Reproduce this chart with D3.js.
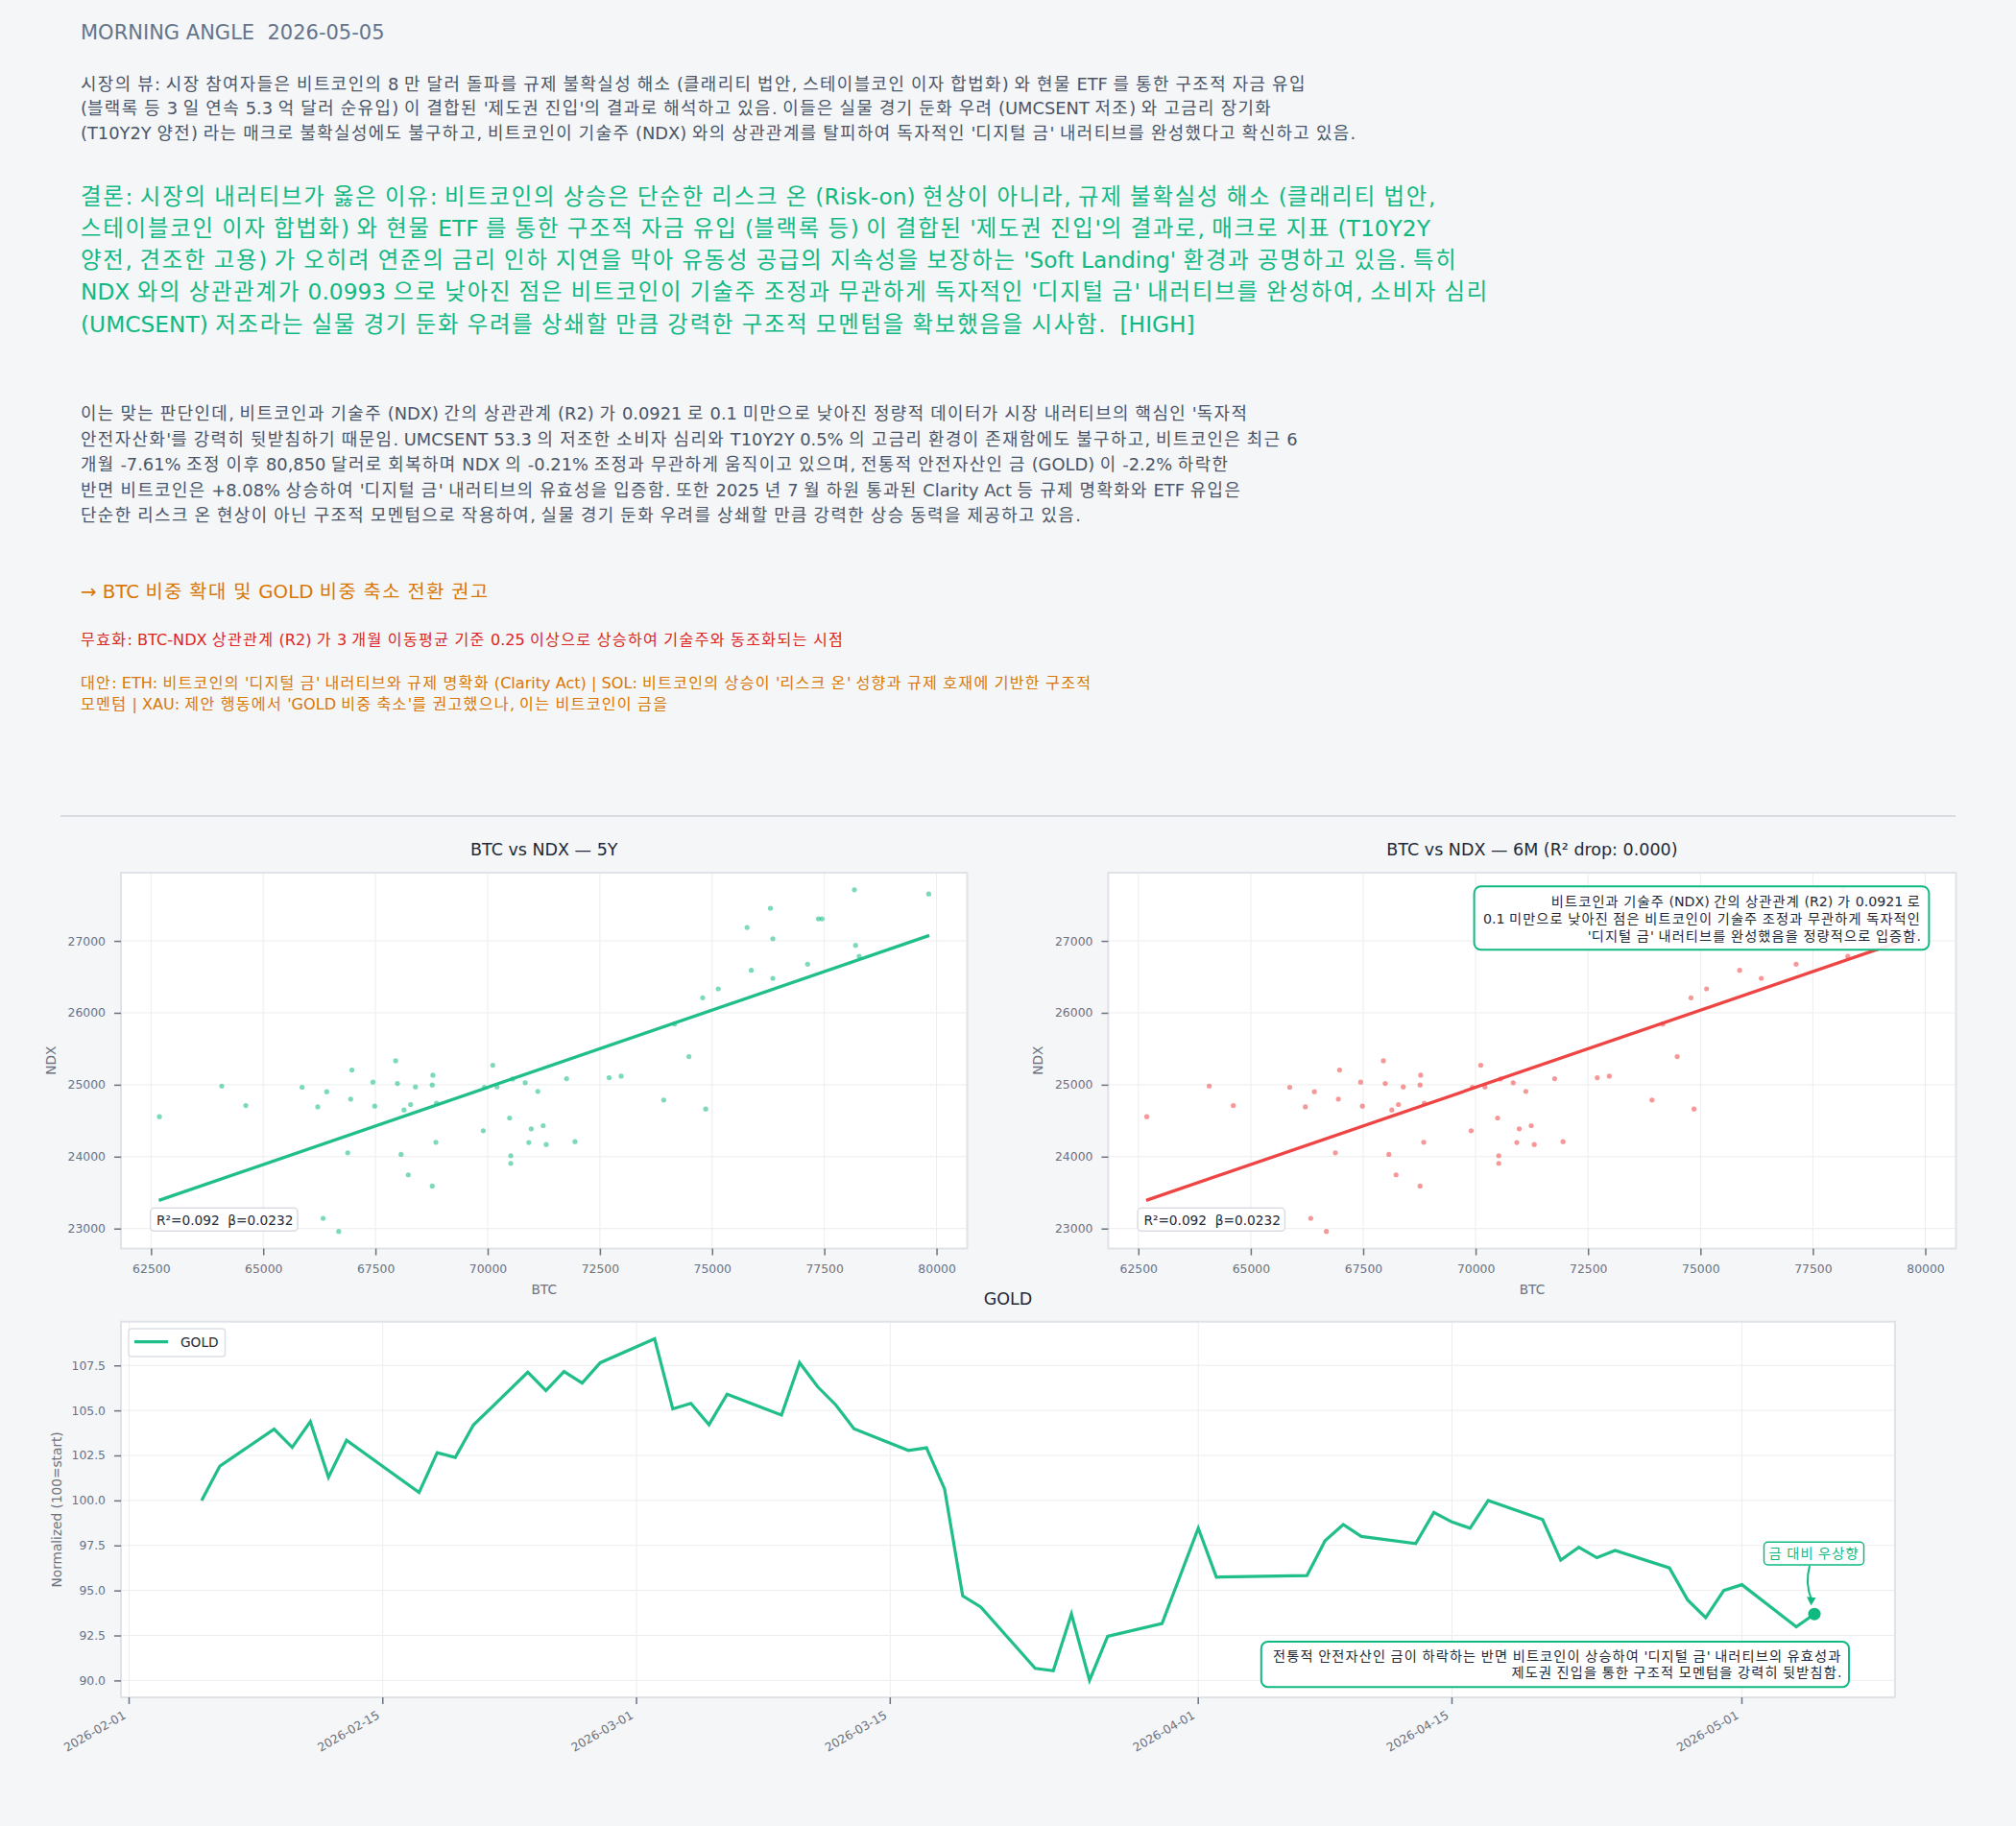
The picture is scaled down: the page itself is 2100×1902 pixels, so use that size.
<!DOCTYPE html>
<html><head><meta charset="utf-8">
<script src="https://cdn.jsdelivr.net/npm/d3@7"></script>
<style>
html,body{margin:0;padding:0;background:#f5f6f8;}
svg{display:block;}
text{font-family:"DejaVu Sans","Noto Sans CJK KR",sans-serif;white-space:pre;}
</style></head><body>
<svg id="c" width="2100" height="1902"></svg>
<script>
// ---------------- text content ----------------
const headerTitle = "MORNING ANGLE  2026-05-05";
const viewLines = [
  "시장의 뷰: 시장 참여자들은 비트코인의 8 만 달러 돌파를 규제 불확실성 해소 (클래리티 법안, 스테이블코인 이자 합법화) 와 현물 ETF 를 통한 구조적 자금 유입",
  "(블랙록 등 3 일 연속 5.3 억 달러 순유입) 이 결합된 '제도권 진입'의 결과로 해석하고 있음. 이들은 실물 경기 둔화 우려 (UMCSENT 저조) 와 고금리 장기화",
  "(T10Y2Y 양전) 라는 매크로 불확실성에도 불구하고, 비트코인이 기술주 (NDX) 와의 상관관계를 탈피하여 독자적인 '디지털 금' 내러티브를 완성했다고 확신하고 있음."
];
const conclusionLines = [
  "결론: 시장의 내러티브가 옳은 이유: 비트코인의 상승은 단순한 리스크 온 (Risk-on) 현상이 아니라, 규제 불확실성 해소 (클래리티 법안,",
  "스테이블코인 이자 합법화) 와 현물 ETF 를 통한 구조적 자금 유입 (블랙록 등) 이 결합된 '제도권 진입'의 결과로, 매크로 지표 (T10Y2Y",
  "양전, 견조한 고용) 가 오히려 연준의 금리 인하 지연을 막아 유동성 공급의 지속성을 보장하는 'Soft Landing' 환경과 공명하고 있음. 특히",
  "NDX 와의 상관관계가 0.0993 으로 낮아진 점은 비트코인이 기술주 조정과 무관하게 독자적인 '디지털 금' 내러티브를 완성하여, 소비자 심리",
  "(UMCSENT) 저조라는 실물 경기 둔화 우려를 상쇄할 만큼 강력한 구조적 모멘텀을 확보했음을 시사함.  [HIGH]"
];
const evidenceLines = [
  "이는 맞는 판단인데, 비트코인과 기술주 (NDX) 간의 상관관계 (R2) 가 0.0921 로 0.1 미만으로 낮아진 정량적 데이터가 시장 내러티브의 핵심인 '독자적",
  "안전자산화'를 강력히 뒷받침하기 때문임. UMCSENT 53.3 의 저조한 소비자 심리와 T10Y2Y 0.5% 의 고금리 환경이 존재함에도 불구하고, 비트코인은 최근 6",
  "개월 -7.61% 조정 이후 80,850 달러로 회복하며 NDX 의 -0.21% 조정과 무관하게 움직이고 있으며, 전통적 안전자산인 금 (GOLD) 이 -2.2% 하락한",
  "반면 비트코인은 +8.08% 상승하여 '디지털 금' 내러티브의 유효성을 입증함. 또한 2025 년 7 월 하원 통과된 Clarity Act 등 규제 명확화와 ETF 유입은",
  "단순한 리스크 온 현상이 아닌 구조적 모멘텀으로 작용하여, 실물 경기 둔화 우려를 상쇄할 만큼 강력한 상승 동력을 제공하고 있음."
];
const actionText = "→ BTC 비중 확대 및 GOLD 비중 축소 전환 권고";
const invalidText = "무효화: BTC-NDX 상관관계 (R2) 가 3 개월 이동평균 기준 0.25 이상으로 상승하여 기술주와 동조화되는 시점";
const altLines = [
  "대안: ETH: 비트코인의 '디지털 금' 내러티브와 규제 명확화 (Clarity Act) | SOL: 비트코인의 상승이 '리스크 온' 성향과 규제 호재에 기반한 구조적",
  "모멘텀 | XAU: 제안 행동에서 'GOLD 비중 축소'를 권고했으나, 이는 비트코인이 금을"
];

// ---------------- scatter data (BTC vs NDX) ----------------
const btc = [62687,64076,64611,65866,66214,66414,66334,66681,66882,66948,66975,67443,67483,67950,67990,68071,68137,68231,68284,68391,
  68765,68765,68779,68846,68859,69901,69927,70114,70208,70489,70515,70515,70555,70836,70916,70970,71117,71237,71304,71758,
  71945,72706,72973,73922,74162,74483,74790,74857,75137,75779,75872,76299,76353,76353,77128,77368,77448,78170,78196,78276,79826];
const ndx = [24556,24982,24711,24965,24693,24902,23142,22960,24053,24800,25204,25036,24702,25333,25018,24031,24649,23747,24725,24969,
  23591,24996,25133,24200,24742,24360,24965,25271,24969,24538,24013,23907,25080,25027,24196,24387,24907,24431,24169,25084,
  24209,25098,25120,24787,25844,25391,26209,24662,26333,27187,26591,27453,27031,26480,26676,27307,27307,27711,26938,26787,27653];
const fitBtc = [62673, 79839];
const fitNdx = [23391, 27076];
const statText = "R²=0.092  β=0.0232";
const scatterXTicks = [62500,65000,67500,70000,72500,75000,77500,80000];
const scatterYTicks = [23000,24000,25000,26000,27000];
const scatterTitles = ["BTC vs NDX — 5Y", "BTC vs NDX — 6M (R² drop: 0.000)"];
const corrNote = [
  "비트코인과 기술주 (NDX) 간의 상관관계 (R2) 가 0.0921 로",
  "0.1 미만으로 낮아진 점은 비트코인이 기술주 조정과 무관하게 독자적인",
  "'디지털 금' 내러티브를 완성했음을 정량적으로 입증함."
];

// ---------------- GOLD data ----------------
const goldDates = ["2026-02-05","2026-02-06","2026-02-09","2026-02-10","2026-02-11","2026-02-12","2026-02-13","2026-02-17","2026-02-18","2026-02-19",
  "2026-02-20","2026-02-23","2026-02-24","2026-02-25","2026-02-26","2026-02-27","2026-03-02","2026-03-03","2026-03-04","2026-03-05",
  "2026-03-06","2026-03-09","2026-03-10","2026-03-11","2026-03-12","2026-03-13","2026-03-16","2026-03-17","2026-03-18","2026-03-19",
  "2026-03-20","2026-03-23","2026-03-24","2026-03-25","2026-03-26","2026-03-27","2026-03-30","2026-04-01","2026-04-02","2026-04-07",
  "2026-04-08","2026-04-09","2026-04-10","2026-04-13","2026-04-14","2026-04-15","2026-04-16","2026-04-17","2026-04-20","2026-04-21",
  "2026-04-22","2026-04-23","2026-04-24","2026-04-27","2026-04-28","2026-04-29","2026-04-30","2026-05-01","2026-05-04","2026-05-05"];
const goldValues = [100.0,101.9,103.96,102.95,104.38,101.29,103.34,100.44,102.65,102.39,
  104.19,107.12,106.1,107.16,106.52,107.65,108.98,105.09,105.39,104.21,
  105.9,104.74,107.65,106.31,105.3,103.98,102.78,102.92,100.64,94.70,
  94.08,90.67,90.54,93.69,90.01,92.45,93.16,98.46,95.74,95.83,
  97.77,98.66,98.0,97.6,99.33,98.8,98.46,100.0,98.94,96.68,
  97.40,96.82,97.22,96.25,94.48,93.49,95.0,95.32,92.98,93.69];
const goldXTicks = ["2026-02-01","2026-02-15","2026-03-01","2026-03-15","2026-04-01","2026-04-15","2026-05-01"];
const goldYTicks = [90,92.5,95,97.5,100,102.5,105,107.5];
const goldTag = "금 대비 우상향";
const goldNote = [
  "전통적 안전자산인 금이 하락하는 반면 비트코인이 상승하여 '디지털 금' 내러티브의 유효성과",
  "제도권 진입을 통한 구조적 모멘텀을 강력히 뒷받침함."
];

// ---------------- drawing ----------------
const GREEN = "#10b981", LINEG = "#1fbf87", RED = "#ef4444";
const TICKC = "#6b7280", DARK = "#1f2937";
const HANGUL = /([\u1100-\u11FF\u3130-\u318F\uAC00-\uD7AF]+)/;
const svg = d3.select("#c");

// Hangul runs get extra tracking so each syllable advances a full em, as in the reference
function rich(textSel, str, size) {
  str.split(HANGUL).forEach(part => {
    if (!part) return;
    const t = textSel.append("tspan").text(part);
    if (HANGUL.test(part)) t.attr("letter-spacing", (size * 0.08).toFixed(2));
  });
  return textSel;
}
function textLines(parent, arr, x, y0, dy, size, color, anchor) {
  arr.forEach((t, i) => {
    const el = parent.append("text").attr("x", x).attr("y", y0 + i * dy).attr("font-size", size)
      .attr("fill", color).attr("text-anchor", anchor || "start");
    rich(el, t, size);
  });
}
function padExtent(arr) { const [a, b] = d3.extent(arr); const p = (b - a) * 0.05; return [a - p, b + p]; }

// header texts
textLines(svg, [headerTitle], 84, 40.5, 0, 21, "#64748b");
textLines(svg, viewLines, 84, 93.5, 25.8, 17.85, "#4a5568");
textLines(svg, conclusionLines, 84, 212.5, 33.3, 23.3, GREEN);
textLines(svg, evidenceLines, 84, 437, 26.6, 17.85, "#4a5568");
textLines(svg, [actionText], 84, 623, 0, 19.8, "#d97706");
textLines(svg, [invalidText], 84, 672, 0, 16.15, "#dc2626");
textLines(svg, altLines, 84, 717, 21.7, 16.1, "#d97706");

svg.append("line").attr("x1", 63).attr("x2", 2037).attr("y1", 850).attr("y2", 850)
  .attr("stroke", "#cfd3da").attr("stroke-width", 1.5);

function styleAxis(g, size) {
  g.attr("font-size", size).attr("font-family", null);
  g.select(".domain").remove();
  g.selectAll(".tick line").attr("stroke", TICKC).attr("stroke-width", 1.5);
  g.selectAll(".tick text").attr("fill", TICKC);
}

function scatter(L, R, title, color, note) {
  const T = 909, B = 1300.5;
  const x = d3.scaleLinear().domain(padExtent(btc)).range([L, R]);
  const y = d3.scaleLinear().domain(padExtent(ndx)).range([B, T]);
  const g = svg.append("g");
  g.append("rect").attr("x", L).attr("y", T).attr("width", R - L).attr("height", B - T).attr("fill", "#fff");
  g.selectAll(".gx").data(scatterXTicks).join("line").attr("x1", d => x(d)).attr("x2", d => x(d))
    .attr("y1", T).attr("y2", B).attr("stroke", "#ededed").attr("stroke-width", 1);
  g.selectAll(".gy").data(scatterYTicks).join("line").attr("y1", d => y(d)).attr("y2", d => y(d))
    .attr("x1", L).attr("x2", R).attr("stroke", "#ededed").attr("stroke-width", 1);
  g.selectAll("circle").data(btc.map((b, i) => [b, ndx[i]])).join("circle")
    .attr("cx", d => x(d[0])).attr("cy", d => y(d[1])).attr("r", 2.6)
    .attr("fill", color).attr("fill-opacity", 0.55);
  g.append("line").attr("x1", x(fitBtc[0])).attr("y1", y(fitNdx[0])).attr("x2", x(fitBtc[1])).attr("y2", y(fitNdx[1]))
    .attr("stroke", color === GREEN ? LINEG : color).attr("stroke-width", 3.3).attr("stroke-linecap", "butt");
  g.append("rect").attr("x", L).attr("y", T).attr("width", R - L).attr("height", B - T)
    .attr("fill", "none").attr("stroke", "#dfe2e7").attr("stroke-width", 2);
  const ax = g.append("g").attr("transform", `translate(0,${B})`)
    .call(d3.axisBottom(x).tickValues(scatterXTicks).tickSize(7).tickPadding(9.5).tickFormat(d3.format("d")));
  styleAxis(ax, 12.4);
  const ay = g.append("g").attr("transform", `translate(${L},0)`)
    .call(d3.axisLeft(y).tickValues(scatterYTicks).tickSize(7).tickPadding(9).tickFormat(d3.format("d")));
  styleAxis(ay, 12.4);
  const cx = (L + R) / 2;
  g.append("text").attr("x", cx).attr("y", 891).attr("text-anchor", "middle").attr("font-size", 17.5).attr("fill", DARK).text(title);
  g.append("text").attr("x", cx).attr("y", 1348).attr("text-anchor", "middle").attr("font-size", 13.7).attr("fill", TICKC).text("BTC");
  g.append("text").attr("transform", `translate(${L - 68},${(T + B) / 2}) rotate(-90)`).attr("text-anchor", "middle")
    .attr("font-size", 13.7).attr("fill", TICKC).text("NDX");
  // stat box
  g.append("rect").attr("x", L + 30.7).attr("y", 1258.3).attr("width", 153.3).attr("height", 24).attr("rx", 4)
    .attr("fill", "#fff").attr("stroke", "#d9dce3").attr("stroke-width", 1.5);
  g.append("text").attr("x", L + 37).attr("y", 1275.5).attr("font-size", 13.7).attr("fill", DARK).text(statText);
  if (note) {
    g.append("rect").attr("x", 1535.6).attr("y", 923.3).attr("width", 473.8).attr("height", 66).attr("rx", 7)
      .attr("fill", "#fff").attr("fill-opacity", 0.9).attr("stroke", GREEN).attr("stroke-width", 2);
    textLines(g, note, 2001, 944, 17.8, 14.2, DARK, "end");
  }
}
scatter(126, 1007.5, scatterTitles[0], GREEN, null);
scatter(1154.4, 2037.5, scatterTitles[1], RED, corrNote);

// GOLD chart
(function () {
  const L = 126, R = 1974, T = 1376.7, B = 1768;
  const parse = d3.utcParse("%Y-%m-%d");
  const dates = goldDates.map(parse);
  const [d0, d1] = d3.extent(dates);
  const pad = (d1 - d0) * 0.05;
  const x = d3.scaleUtc().domain([new Date(+d0 - pad), new Date(+d1 + pad)]).range([L, R]);
  const y = d3.scaleLinear().domain(padExtent(goldValues)).range([B, T]);
  const xt = goldXTicks.map(parse);
  const g = svg.append("g");
  g.append("rect").attr("x", L).attr("y", T).attr("width", R - L).attr("height", B - T).attr("fill", "#fff");
  g.selectAll(".gx").data(xt).join("line").attr("x1", d => x(d)).attr("x2", d => x(d))
    .attr("y1", T).attr("y2", B).attr("stroke", "#ededed");
  g.selectAll(".gy").data(goldYTicks).join("line").attr("y1", d => y(d)).attr("y2", d => y(d))
    .attr("x1", L).attr("x2", R).attr("stroke", "#ededed");
  const line = d3.line().x((d, i) => x(dates[i])).y(d => y(d));
  g.append("path").attr("d", line(goldValues)).attr("fill", "none").attr("stroke", LINEG)
    .attr("stroke-width", 3.2).attr("stroke-linejoin", "miter");
  g.append("rect").attr("x", L).attr("y", T).attr("width", R - L).attr("height", B - T)
    .attr("fill", "none").attr("stroke", "#dfe2e7").attr("stroke-width", 2);
  const ay = g.append("g").attr("transform", `translate(${L},0)`)
    .call(d3.axisLeft(y).tickValues(goldYTicks).tickSize(7).tickPadding(9).tickFormat(d3.format(".1f")));
  styleAxis(ay, 12.4);
  const ax = g.append("g");
  ax.selectAll("line").data(xt).join("line").attr("x1", d => x(d)).attr("x2", d => x(d))
    .attr("y1", B).attr("y2", B + 7).attr("stroke", TICKC).attr("stroke-width", 1.5);
  ax.selectAll("text").data(goldXTicks).join("text")
    .attr("transform", (d, i) => `translate(${x(xt[i]) - 2.5},${B + 21}) rotate(-30)`)
    .attr("text-anchor", "end").attr("font-size", 12.4).attr("fill", TICKC).text(d => d);
  g.append("text").attr("x", (L + R) / 2).attr("y", 1358.5).attr("text-anchor", "middle")
    .attr("font-size", 17.5).attr("fill", DARK).text("GOLD");
  g.append("text").attr("transform", `translate(${L - 62},${(T + B) / 2}) rotate(-90)`).attr("text-anchor", "middle")
    .attr("font-size", 13.7).attr("fill", TICKC).text("Normalized (100=start)");
  // legend
  g.append("rect").attr("x", 134).attr("y", 1384).attr("width", 100.5).attr("height", 29).attr("rx", 3)
    .attr("fill", "#fff").attr("stroke", "#dcdfe5").attr("stroke-width", 1.5);
  g.append("line").attr("x1", 140).attr("x2", 175).attr("y1", 1397.7).attr("y2", 1397.7)
    .attr("stroke", LINEG).attr("stroke-width", 3.3);
  g.append("text").attr("x", 188).attr("y", 1402.5).attr("font-size", 13.7).attr("fill", DARK).text("GOLD");
  // end marker + tag
  const lx = x(dates[dates.length - 1]), ly = y(goldValues[goldValues.length - 1]);
  g.append("circle").attr("cx", lx).attr("cy", ly).attr("r", 6.5).attr("fill", GREEN);
  g.append("rect").attr("x", 1837.5).attr("y", 1606.3).attr("width", 104).attr("height", 23.7).attr("rx", 4)
    .attr("fill", "#fff").attr("stroke", GREEN).attr("stroke-width", 1.5);
  textLines(g, [goldTag], 1889.6, 1623.3, 0, 14.2, GREEN, "middle");
  const tipY = ly - 9;
  g.append("path").attr("d", `M1885,1631 Q1880,1650 ${lx - 3},${tipY - 6}`)
    .attr("fill", "none").attr("stroke", GREEN).attr("stroke-width", 2);
  g.append("path").attr("d", `M${lx - 8},${tipY - 9} L${lx - 3.5},${tipY} L${lx + 1.5},${tipY - 8} Z`).attr("fill", GREEN);
  // note box
  g.append("rect").attr("x", 1313.8).attr("y", 1710).attr("width", 612.2).attr("height", 47.3).attr("rx", 7)
    .attr("fill", "#fff").attr("fill-opacity", 0.9).attr("stroke", GREEN).attr("stroke-width", 2);
  textLines(g, goldNote, 1918.4, 1730, 17.4, 14.2, DARK, "end");
})();
</script></body></html>
